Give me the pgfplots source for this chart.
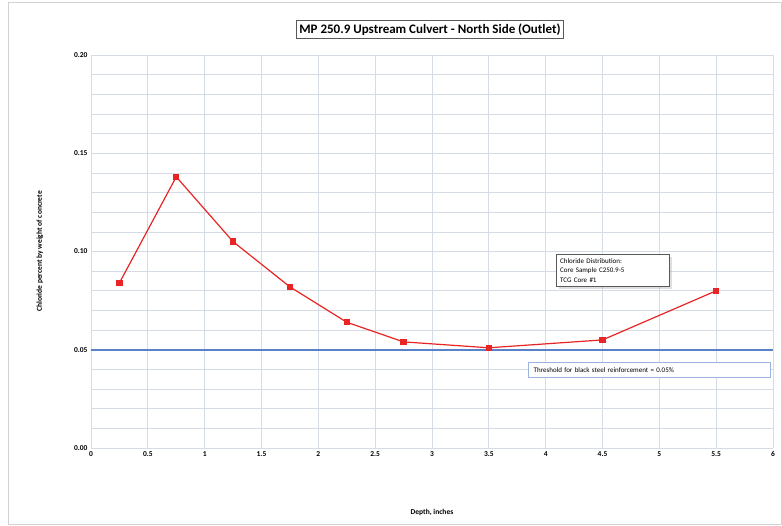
\documentclass[border=0pt]{standalone}
\usepackage{fontspec}
\setmainfont{Carlito}
\usepackage{pgfplots}
\pgfplotsset{compat=1.18}
\usetikzlibrary{shadows}

\definecolor{linered}{RGB}{232,36,36}
\definecolor{threshblue}{RGB}{90,130,200}
\definecolor{gridc}{RGB}{214,220,230}

\begin{document}
\begin{tikzpicture}
\useasboundingbox (-91pt,-77pt) rectangle (691pt,448pt);
\draw[gray!35, line width=1pt] (-82pt,-76pt) rectangle (690pt,445pt);
\begin{axis}[
    scale only axis,
    width=682pt, height=393pt,
    xmin=0, xmax=6, ymin=0, ymax=0.2,
    xtick={0,0.5,...,6},
    ytick={0,0.05,...,0.2},
    minor y tick num=4,
    grid=both,
    major grid style={gridc, line width=0.8pt},
    minor grid style={gridc, line width=0.6pt},
    axis line style={draw=none},
    tick style={draw=none},
    /pgf/number format/assume math mode=true,
    yticklabel style={/pgf/number format/.cd, fixed, fixed zerofill, precision=2},
    xticklabel style={/pgf/number format/.cd, fixed},
    ticklabel style={font=\fontsize{7.5}{8}\selectfont\bfseries},
    xlabel={Depth, inches},
    ylabel={Chloride percent by weight of concrete},
    label style={font=\fontsize{7.5}{8}\selectfont\bfseries},
    xlabel style={at={(axis description cs:0.5,-0.165)}, anchor=center},
    ylabel style={at={(axis description cs:-0.075,0.5)}, anchor=center},
    clip=false,
]
\addplot[color=threshblue, no marks, line width=1.6pt, forget plot] table {
x y
0 0.05
6 0.05
};
\addplot[linered, line width=1.2pt, mark=square*, mark size=2.6pt, mark options={fill=linered}]
    coordinates {
    (0.25,0.084) (0.75,0.138) (1.25,0.105) (1.75,0.082) (2.25,0.064)
    (2.75,0.054) (3.5,0.051) (4.5,0.055) (5.5,0.080)
    };
\node[draw=gray!70!black, line width=1pt, fill=white, font=\fontsize{13}{15}\selectfont\bfseries,
      inner sep=3pt] at (axis description cs:0.497,1.065) {MP 250.9 Upstream Culvert - North Side (Outlet)};
\node[draw=gray!70!black, line width=1pt, fill=white, align=left, font=\fontsize{7}{9.5}\selectfont,
      text width=105pt, inner sep=4pt, drop shadow={opacity=0.25}] at (axis cs:4.59,0.0905)
      {Chloride Distribution:\\Core Sample C250.9-5\\TCG Core \#1};
\node[draw=threshblue!60, line width=0.8pt, fill=white, font=\fontsize{7}{8}\selectfont,
      text width=232pt, inner sep=5pt, align=left] at (axis cs:4.915,0.0397)
      {Threshold for black steel reinforcement = 0.05\%};
\end{axis}
\end{tikzpicture}
\end{document}
